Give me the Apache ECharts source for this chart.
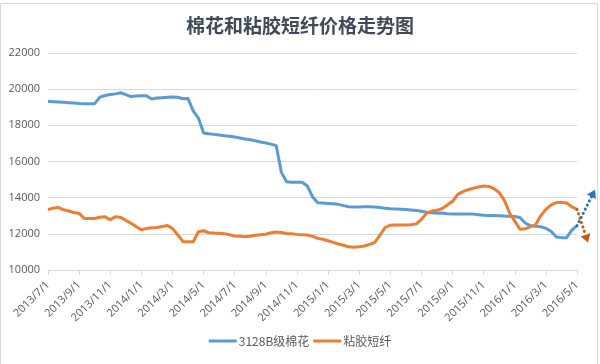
<!DOCTYPE html>
<html>
<head>
<meta charset="utf-8">
<script src="https://cdn.jsdelivr.net/npm/echarts@6/dist/echarts.min.js"></script>
<style>
html,body{margin:0;padding:0;background:#fff;}
#c{width:600px;height:364px;}
</style>
</head>
<body>
<div id="c"></div>
<script>
const titleText = '棉花和粘胶短纤价格走势图';
const seriesNames = ['3128B级棉花', '粘胶短纤'];
const tickLabels = ['2013/7/1','2013/9/1','2013/11/1','2014/1/1','2014/3/1','2014/5/1','2014/7/1','2014/9/1','2014/11/1','2015/1/1','2015/3/1','2015/5/1','2015/7/1','2015/9/1','2015/11/1','2016/1/1','2016/3/1','2016/5/1'];
const pointsPerTick = 6;
const yTicks = [10000, 12000, 14000, 16000, 18000, 20000, 22000];

const cotton = [
19330,19310,19290,19270,19250,19230,19210,19200,19190,19200,
19560,19650,19710,19740,19800,19700,19590,19620,19640,19630,
19460,19510,19530,19550,19560,19550,19470,19480,18800,18400,
17580,17530,17500,17470,17430,17400,17360,17300,17240,17200,
17150,17080,17020,16960,16880,15400,14880,14850,14850,14850,
14650,14050,13720,13700,13680,13660,13630,13560,13500,13480,
13490,13500,13500,13480,13450,13420,13390,13380,13360,13340,
13320,13290,13250,13200,13160,13140,13150,13110,13100,13100,
13100,13100,13090,13060,13030,13020,13010,13000,12980,12970,
12960,12900,12600,12450,12420,12390,12300,12140,11830,11790,
11790,12200,12450
];
const viscose = [
13350,13420,13460,13330,13260,13180,13130,12850,12850,12850,
12920,12940,12780,12950,12910,12750,12580,12400,12230,12300,
12340,12350,12400,12460,12300,11950,11580,11560,11560,12120,
12170,12060,12040,12030,12010,11950,11880,11860,11840,11870,
11920,11950,11980,12060,12100,12070,12020,12000,11970,11950,
11930,11870,11750,11700,11620,11530,11440,11370,11280,11260,
11290,11330,11420,11520,11930,12350,12480,12490,12490,12490,
12500,12550,12800,13150,13260,13300,13400,13600,13800,14180,
14330,14440,14520,14590,14650,14620,14500,14280,13850,13150,
12700,12250,12280,12400,12500,13000,13350,13600,13720,13740,
13700,13500,13350
];

const categories = cotton.map((v, i) => (i % pointsPerTick === 0 ? tickLabels[i / pointsPerTick] : ''));

const chart = echarts.init(document.getElementById('c'), null, {renderer: 'canvas'});
const txt = '#595959';
const grid = '#d9d9d9';
chart.setOption({
  animation: false,
  backgroundColor: '#ffffff',
  title: {
    text: titleText, left: 'center', top: 11,
    textStyle: {fontSize: 19, fontWeight: 'bold', color: '#404a58', fontFamily: 'Noto Sans CJK SC'}
  },
  legend: {
    bottom: 12, left: 'center', itemGap: 4, itemWidth: 28, itemHeight: 3, icon: 'rect',
    textStyle: {color: txt, fontSize: 12, fontFamily: 'Noto Sans CJK SC', padding: [0,0,0,-3]},
    data: seriesNames
  },
  grid: {left: 48, right: 23, top: 53, bottom: 94, containLabel: false},
  xAxis: {
    type: 'category', data: categories, boundaryGap: false,
    axisLine: {lineStyle: {color: grid, width: 1}},
    axisTick: {show: true, interval: pointsPerTick - 1, length: 5, lineStyle: {color: grid}},
    axisLabel: {interval: pointsPerTick - 1, rotate: 45, color: txt, fontSize: 11, fontFamily: 'Open Sans', margin: 13}
  },
  yAxis: {
    type: 'value', min: yTicks[0], max: yTicks[yTicks.length - 1], interval: 2000,
    axisLine: {show: false}, axisTick: {show: false},
    splitLine: {lineStyle: {color: grid, width: 1}},
    axisLabel: {color: txt, fontSize: 11, fontFamily: 'Open Sans', margin: 8, formatter: (v) => String(v)}
  },
  series: [
    {name: seriesNames[0], type: 'line', data: cotton, showSymbol: false, symbol: 'none',
     lineStyle: {color: '#5b9bd5', width: 3, join: 'round'}, itemStyle: {color: '#5b9bd5'}},
    {name: seriesNames[1], type: 'line', data: viscose, showSymbol: false, symbol: 'none',
     lineStyle: {color: '#ed7d31', width: 3, join: 'round'}, itemStyle: {color: '#ed7d31'}}
  ]
});

// Trend arrows anchored to each series' last point
function arrow(p, dx, dy, color) {
  const len = Math.sqrt(dx*dx + dy*dy);
  const ux = dx / len, uy = dy / len;
  const tip = [p[0] + dx, p[1] + dy];
  const base = [tip[0] - ux*8, tip[1] - uy*8];
  const nx = -uy, ny = ux;
  return [
    {type: 'line', shape: {x1: p[0], y1: p[1], x2: base[0], y2: base[1]},
     style: {stroke: color, lineWidth: 3, lineDash: [0.1, 4.5], lineCap: 'round'}, z: 100},
    {type: 'polygon', shape: {points: [tip, [base[0] + nx*5, base[1] + ny*5], [base[0] - nx*5, base[1] - ny*5]]},
     style: {fill: color}, z: 100}
  ];
}
const last = cotton.length - 1;
const pb = chart.convertToPixel({gridIndex: 0}, [last, cotton[last]]);
const po = chart.convertToPixel({gridIndex: 0}, [last, viscose[last]]);
chart.setOption({
  graphic: [
    {type: 'rect', shape: {x: 0.5, y: 3.5, width: 597, height: 362}, style: {fill: 'none', stroke: '#d9d9d9', lineWidth: 1}, silent: true},
    ...arrow(pb, 18, -36, '#2e75b6'),
    ...arrow(po, 11, 33, '#c55a11')
  ]
});
</script>
</body>
</html>
